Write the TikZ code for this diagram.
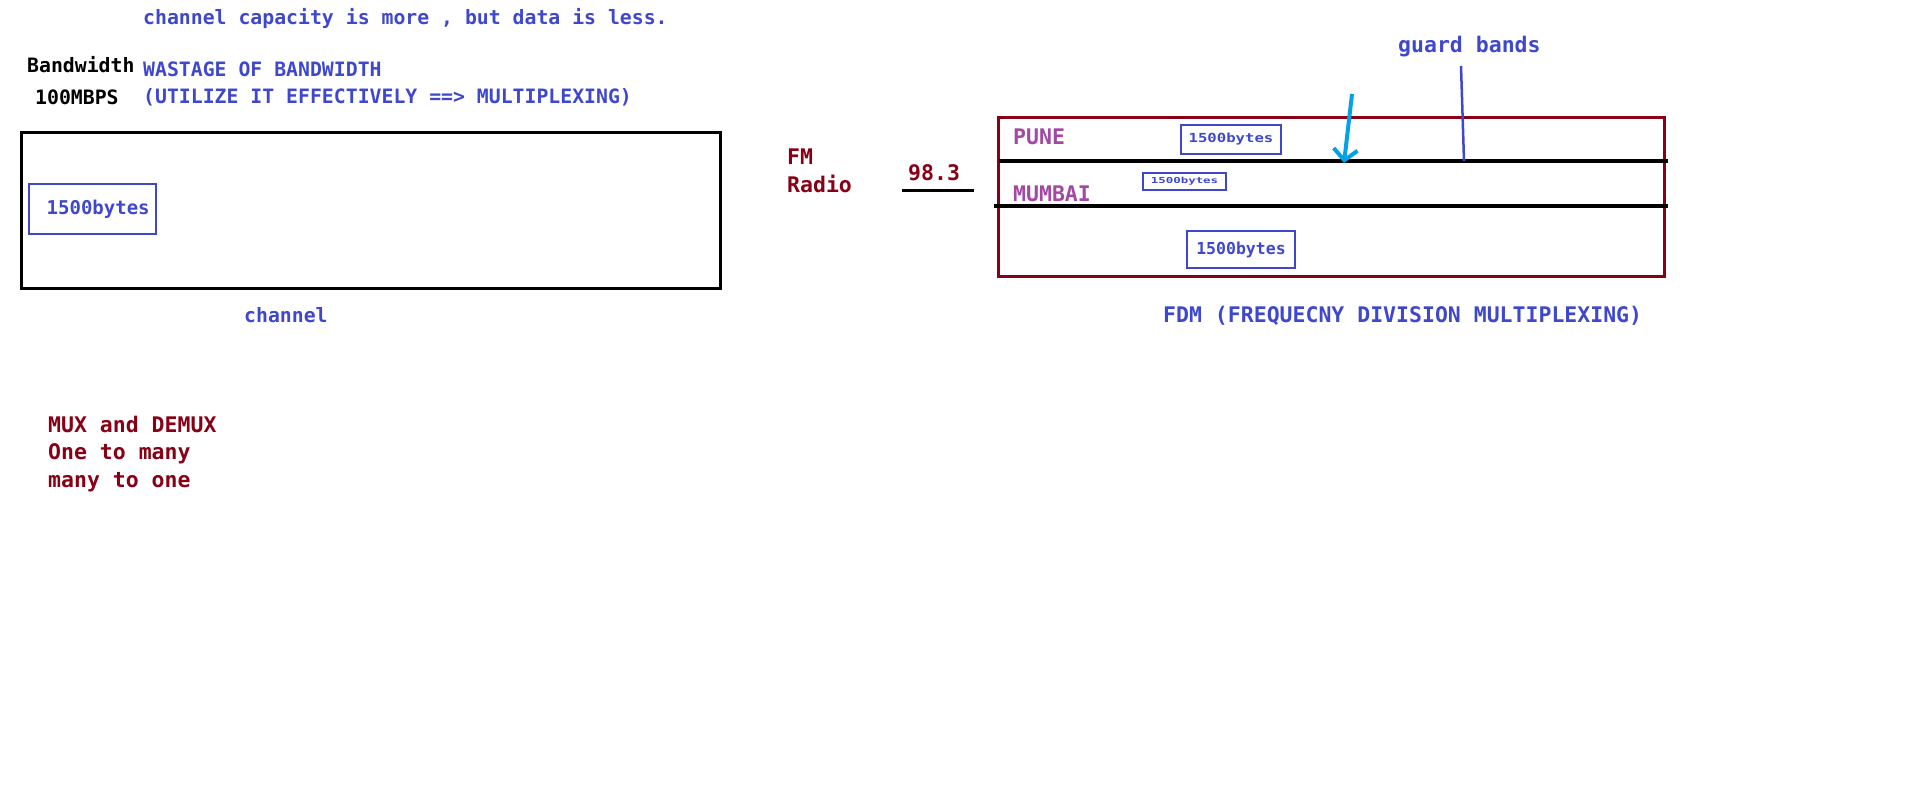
\documentclass[tikz,border=0pt]{standalone}
\usepackage{fontspec}
\setmainfont{DejaVu Sans Mono}
\usepackage{xcolor}
\usepackage{graphicx}
\usetikzlibrary{arrows.meta, positioning}

\definecolor{inkblue}{RGB}{63,72,204}
\definecolor{inkred}{RGB}{136,0,21}
\definecolor{inkpurple}{RGB}{163,73,164}
\definecolor{inkcyan}{RGB}{0,162,232}

\newcommand{\smalltxt}{\fontsize{19.8}{24}\selectfont\bfseries}
\newcommand{\bigtxt}{\fontsize{21.5}{26}\selectfont\bfseries}

\begin{document}
\begin{tikzpicture}[x=1pt, y=-1pt,
    note/.style={inner sep=0pt, anchor=base west, font=\smalltxt, text=inkblue},
    remark/.style={inner sep=0pt, anchor=base west, font=\bigtxt, text=inkred},
    city/.style={remark, text=inkpurple},
    packet/.style={rectangle, draw=inkblue, line width=2.5pt, inner sep=0pt, text=inkblue, font=\bfseries},
    band/.style={black, line width=3.5pt}]
    \useasboundingbox (0,0) rectangle (1914,806);

    % left: one channel, one small packet
    \node [note] (cap) at (143,24) {channel capacity is more , but data is less.};
    \node [note, text=black] (bw) at (27,72) {Bandwidth};
    \node [note, text=black] (mbps) at (35,104) {100MBPS};
    \node [note] (waste) at (143,76) {WASTAGE OF BANDWIDTH};
    \node [note] (util) at (143,103) {(UTILIZE IT EFFECTIVELY ==> MULTIPLEXING)};
    \node [draw, line width=3pt, minimum width=699pt, minimum height=156pt, inner sep=0pt] (chan) at (370.5,210) {};
    \node [packet, minimum width=127pt, minimum height=50pt, font=\fontsize{19}{22}\selectfont\bfseries] (pkt) at (92.5,209) {\ 1500bytes};
    \node [note] (chanlbl) at (244,322) {channel};

    \node [remark] (mux) at (48,432) {MUX and DEMUX};
    \node [remark] (onemany) at (48,459) {One to many};
    \node [remark] (manyone) at (48,487) {many to one};

    % right: FDM
    \node [remark] (fm) at (787,164) {FM};
    \node [remark] (radio) at (787,192) {Radio};
    \node [remark] (freq) at (908,180) {98.3};
    \coordinate (ulstart) at (902,190);
    \draw [line width=3pt] (ulstart) -- ++(72,0);

    \node [draw=inkred, line width=3pt, minimum width=666pt, minimum height=159pt, inner sep=0pt] (fdm) at (1331,196.5) {};
    \draw [band] (999,161) -- (1668,161);
    \draw [band] (994,206) -- (1668,206);
    \node [city] (pune) at (1013,144) {PUNE};
    \node [city] (mumbai) at (1013,201) {MUMBAI};

    \node [packet, line width=2pt, minimum width=100pt, minimum height=29pt] (pkta) at (1231,139.5) {\scalebox{1.25}[1]{\fontsize{12.5}{14}\selectfont 1500bytes}};
    \node [packet, line width=1.5pt, minimum width=83pt, minimum height=17pt] (pktb) at (1184.5,181.5) {\scalebox{1.5}[1]{\fontsize{8.3}{10}\selectfont 1500bytes}};
    \node [packet, minimum width=108pt, minimum height=37pt] (pktc) at (1241,249.5) {\fontsize{16.5}{20}\selectfont 1500bytes};
    \node [remark, text=inkblue] (fdmlbl) at (1163,322) {FDM (FREQUECNY DIVISION MULTIPLEXING)};

    % guard band markers
    \node [remark, text=inkblue] (guard) at (1398,52) {guard bands};
    \coordinate (gtop) at (1461,66);
    \coordinate (gbend) at (1464,161);
    \draw [inkblue, line width=2.5pt] (gtop) -- (gbend);
    \coordinate (atop) at (1352,94);
    \coordinate (atip) at (1344,163);
    \draw [inkcyan, line width=4pt, -{Straight Barb[length=11pt, width=24pt]}] (atop) -- (atip);
\end{tikzpicture}
\end{document}
